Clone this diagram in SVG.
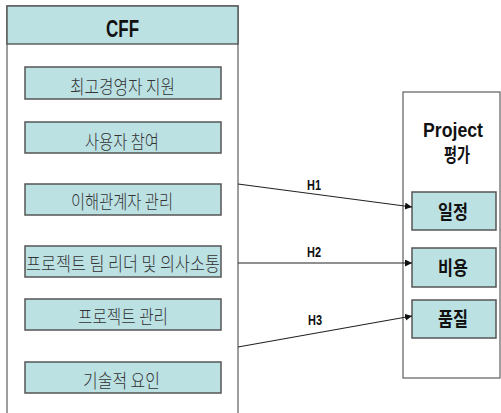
<svg xmlns="http://www.w3.org/2000/svg" width="501" height="413" viewBox="0 0 501 413">
<style>
.frame{fill:#ffffff;stroke:#6a6a6a;stroke-width:1.3}
.hdr{fill:#bce1e3;stroke:#4a4a4a;stroke-width:1.3}
.box{fill:#bce1e3;stroke:#555555;stroke-width:1.5}
.kt{font-family:"Noto Sans CJK KR",sans-serif;font-size:19px;fill:#333333;text-anchor:middle;font-weight:300}
.kb{font-family:"Noto Sans CJK KR",sans-serif;font-size:19px;fill:#111111;text-anchor:middle;font-weight:bold}
.lb{font-family:"Liberation Sans",Arial,sans-serif;font-weight:bold;fill:#111111;text-anchor:middle}
.conn{stroke:#222222;stroke-width:1.2;fill:none;marker-end:url(#ah)}
</style>
<defs>
<marker id="ah" markerUnits="userSpaceOnUse" markerWidth="8" markerHeight="8" refX="7" refY="3.5" orient="auto">
<path d="M0,0 L7,3.5 L0,7 z" fill="#111111"/>
</marker>
</defs>
<rect width="501" height="413" fill="#ffffff"/>
<g id="cff">
<rect class="frame" x="7" y="6" width="231" height="420"/>
<rect class="hdr" x="7" y="6" width="231" height="38"/>
<text class="lb" x="122.5" y="37" font-size="24" textLength="33" lengthAdjust="spacingAndGlyphs">CFF</text>
</g>
<g id="n1"><rect class="box" x="25" y="67" width="196" height="32"/><text class="kt" x="122.5" y="94" textLength="105" lengthAdjust="spacingAndGlyphs">최고경영자 지원</text></g>
<g id="n2"><rect class="box" x="25" y="122" width="196" height="31"/><text class="kt" x="122" y="149" textLength="74" lengthAdjust="spacingAndGlyphs">사용자 참여</text></g>
<g id="n3"><rect class="box" x="25" y="184" width="196" height="31"/><text class="kt" x="122" y="209" textLength="102" lengthAdjust="spacingAndGlyphs">이해관계자 관리</text></g>
<g id="n4"><rect class="box" x="25" y="246" width="196" height="31"/><text class="kt" x="123" y="271" textLength="194" lengthAdjust="spacingAndGlyphs">프로젝트 팀 리더 및 의사소통</text></g>
<g id="n5"><rect class="box" x="25" y="299" width="196" height="31"/><text class="kt" x="123" y="324" textLength="90" lengthAdjust="spacingAndGlyphs">프로젝트 관리</text></g>
<g id="n6"><rect class="box" x="25" y="362" width="196" height="31"/><text class="kt" x="121.5" y="388" textLength="77" lengthAdjust="spacingAndGlyphs">기술적 요인</text></g>
<g id="project">
<rect class="frame" x="403" y="92" width="97" height="286"/>
<text class="lb" x="453" y="137" font-size="21" textLength="60" lengthAdjust="spacingAndGlyphs">Project</text>
<text class="kb" x="457" y="162" textLength="26" lengthAdjust="spacingAndGlyphs">평가</text>
</g>
<g id="r1"><rect class="box" x="412" y="192" width="84" height="38"/><text class="kb" x="453" y="219" textLength="30" lengthAdjust="spacingAndGlyphs">일정</text></g>
<g id="r2"><rect class="box" x="412" y="248" width="84" height="39"/><text class="kb" x="453" y="275" textLength="30" lengthAdjust="spacingAndGlyphs">비용</text></g>
<g id="r3"><rect class="box" x="412" y="300" width="84" height="38"/><text class="kb" x="453" y="326" textLength="30" lengthAdjust="spacingAndGlyphs">품질</text></g>
<g id="connectors">
<line class="conn" x1="238" y1="184" x2="412" y2="207"/>
<line class="conn" x1="238" y1="263" x2="412" y2="263"/>
<line class="conn" x1="238" y1="347" x2="412" y2="316"/>
<text class="lb" x="314" y="190" font-size="15" textLength="14" lengthAdjust="spacingAndGlyphs">H1</text>
<text class="lb" x="314" y="257" font-size="15" textLength="14" lengthAdjust="spacingAndGlyphs">H2</text>
<text class="lb" x="315" y="325" font-size="15" textLength="14" lengthAdjust="spacingAndGlyphs">H3</text>
</g>
</svg>
